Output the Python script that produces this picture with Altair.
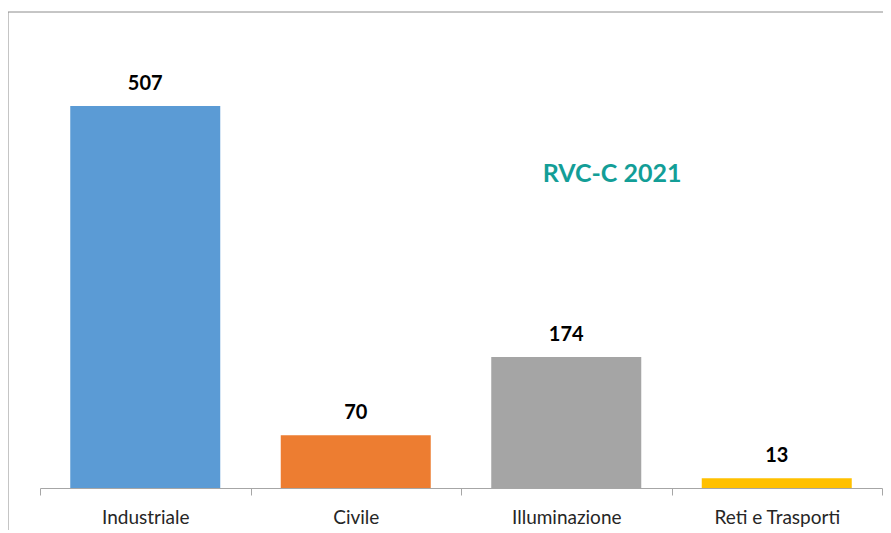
import altair as alt
import pandas as pd

categories = ["Industriale", "Civile", "Illuminazione", "Reti e Trasporti"]
values = [507, 70, 174, 13]
colors = ["#5B9BD5", "#ED7D31", "#A5A5A5", "#FFC000"]
title_text = "RVC-C 2021"

df = pd.DataFrame({"cat": categories, "val": values, "col": colors})

x_enc = alt.X(
    "cat:N",
    sort=categories,
    scale=alt.Scale(paddingInner=0, paddingOuter=0),
    axis=alt.Axis(
        title=None,
        labelAngle=0,
        tickBand="extent",
        domainColor="#A6A6A6",
        tickColor="#A6A6A6",
        tickSize=7,
        labelFont="Lato",
        labelFontSize=19,
        labelColor="#262626",
        labelPadding=13,
        labelBaseline="top",
    ),
)
y_enc = alt.Y("val:Q", scale=alt.Scale(domain=[0, 600]), axis=None)

base = alt.Chart(df)

bars = base.mark_bar(size=150).encode(
    x=x_enc,
    y=y_enc,
    color=alt.Color("col:N", scale=None),
)

labels = base.mark_text(
    dy=-16, baseline="alphabetic", font="Lato", fontWeight="bold", fontSize=20, color="#000000"
).encode(x=x_enc, y=y_enc, text="val:Q")

title_df = pd.DataFrame({"t": [title_text]})
title = alt.Chart(title_df).mark_text(
    font="Lato", fontWeight="bold", fontSize=25, color="#139E97", align="center", baseline="alphabetic"
).encode(x=alt.value(572), y=alt.value(146), text="t:N")

frame_df = pd.DataFrame({"k": [0]})
frame_left = alt.Chart(frame_df).mark_rule(color="#8C8C8C", strokeWidth=1).encode(
    x=alt.value(-32), y=alt.value(-24), y2=alt.value(600)
)
frame_top = alt.Chart(frame_df).mark_rule(color="#8C8C8C", strokeWidth=1).encode(
    x=alt.value(-32), x2=alt.value(900), y=alt.value(-24)
)

chart = (
    alt.layer(frame_left, frame_top, bars, labels, title)
    .properties(
        width=842,
        height=452,
        padding={"left": 32, "top": 28, "right": 1, "bottom": 42},
        autosize=alt.AutoSizeParams(type="none"),
        background="white",
    )
    .configure_view(stroke=None)
)

chart.save("out.html", embed_options={"renderer": "svg", "actions": False})
